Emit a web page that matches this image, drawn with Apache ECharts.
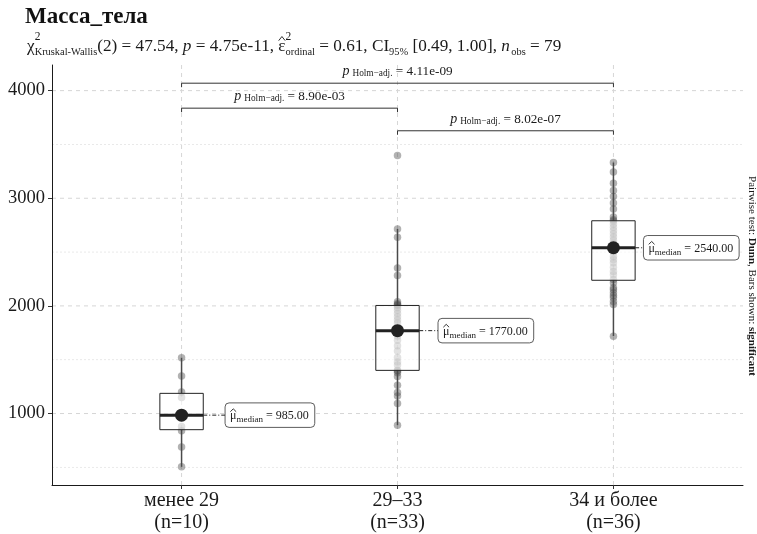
<!DOCTYPE html>
<html><head><meta charset="utf-8">
<script src="https://cdn.jsdelivr.net/npm/echarts@6/dist/echarts.min.js"></script>
<style>html,body{margin:0;padding:0;background:#fff}#c{width:757px;height:534px}</style>
</head><body><div id="c"></div>
<script>
// ---------- data ----------
const categories = ['менее 29', '29–33', '34 и более'];
const groupN = [10, 33, 36];
const massGroup1 = [505, 690, 840, 880, 960, 1010, 1150, 1200, 1348, 1519];
const massGroup2 = [892, 1093, 1163, 1195, 1262, 1343, 1380, 1395, 1401, 1450, 1478, 1520, 1580, 1630, 1680, 1720, 1770,
  1800, 1840, 1870, 1900, 1930, 1960, 1985, 2004, 2010, 2020, 2038, 2282, 2353, 2637, 2715, 3397];
const massGroup3 = [1719, 2013, 2040, 2075, 2096, 2121, 2150, 2168, 2214, 2246, 2290, 2320, 2360, 2400, 2430, 2460, 2500,
  2530, 2550, 2580, 2610, 2640, 2670, 2700, 2730, 2760, 2788, 2800, 2826, 2900, 2955, 3017, 3072, 3140, 3243, 3332];
const yTickValues = [1000, 2000, 3000, 4000];
const yMinorValues = [500, 1500, 2500, 3500];
const pairFrom = [1, 1, 2];
const pairTo = [2, 3, 3];
const pairP = ['8.90e-03', '4.11e-09', '8.02e-07'];
const bracketLevel = [3837, 4069, 3627];

// ---------- helpers ----------
const groups = [massGroup1, massGroup2, massGroup3];
const FF = "'Liberation Serif','Times New Roman',serif";
const TXT = '#1a1a1a';
const mctx = document.createElement('canvas').getContext('2d');
function fontOf(s) { return (s.it ? 'italic ' : '') + (s.b ? 'bold ' : '') + s.size + 'px ' + FF; }
function measureRuns(segs) {
  let cur = 0, lastStart = 0;
  const placed = segs.map(s => {
    mctx.font = fontOf(s);
    const w = mctx.measureText(s.t).width;
    const sx = s.stack ? lastStart : cur + (s.gap || 0);
    lastStart = sx;
    cur = Math.max(cur, sx + w);
    return { s, sx, w };
  });
  return { placed, width: cur };
}
function buildRuns(m, ox, by, color) {
  const els = [];
  m.placed.forEach(p => {
    const s = p.s, x = ox + p.sx, b = by + (s.dy || 0);
    els.push({ type: 'text', style: { text: s.t, x: x, y: b - 0.305 * s.size, font: fontOf(s), fill: color,
      textAlign: 'left', textVerticalAlign: 'middle', align: 'left', verticalAlign: 'middle' } });
    if (s.hat) {
      els.push({ type: 'polyline', shape: { points: [[x + 0.05 * p.w, b - 0.66 * s.size], [x + 0.5 * p.w, b - 0.9 * s.size], [x + 0.95 * p.w, b - 0.66 * s.size]] },
        style: { stroke: color, lineWidth: 0.9, fill: null } });
    }
  });
  return els;
}
function q7(a, p) { const h = (a.length - 1) * p, lo = Math.floor(h), hi = Math.min(lo + 1, a.length - 1); return a[lo] + (h - lo) * (a[hi] - a[lo]); }
const stats = groups.map(g => {
  const s = g.slice().sort((a, b) => a - b);
  const q1 = q7(s, 0.25), med = q7(s, 0.5), q3 = q7(s, 0.75), iqr = q3 - q1;
  const lo = s.filter(v => v >= q1 - 1.5 * iqr)[0];
  const hiArr = s.filter(v => v <= q3 + 1.5 * iqr);
  return { q1, med, q3, lo, hi: hiArr[hiArr.length - 1] };
});
const xLabels = categories.map((c, i) => c + '\n(n=' + groupN[i] + ')');

// ---------- styles ----------
const BOX_HALF = 21.7;
const LABEL_OFFSET = [43.5, 40.5, 30];

const points = [];
groups.forEach((g, i) => g.forEach(v => points.push([i + 1, v])));

const gridData = [];
yTickValues.forEach(v => gridData.push([0, v, 0]));
yMinorValues.forEach(v => gridData.push([0, v, 1]));
[1, 2, 3].forEach(v => gridData.push([v, 0, 2]));

const MS = 17.2, SS = 10.4, SP = 11.5;
const subtitleSegs = [
  { t: 'χ', size: MS },
  { t: '2', size: SP, dy: -12 },
  { t: 'Kruskal-Wallis', size: SS, dy: 3, stack: true },
  { t: '(2) = 47.54, ', size: MS },
  { t: 'p', size: MS, it: true },
  { t: ' = 4.75e-11, ', size: MS },
  { t: 'ε', size: MS, hat: true },
  { t: '2', size: SP, dy: -12 },
  { t: 'ordinal', size: SS, dy: 3, stack: true },
  { t: ' = 0.61, CI', size: MS },
  { t: '95%', size: SS, dy: 3 },
  { t: ' [0.49, 1.00], ', size: MS },
  { t: 'n', size: MS, it: true },
  { t: 'obs', size: SS, dy: 3, gap: 1.5 },
  { t: ' = 79', size: MS }
];
const subM = measureRuns(subtitleSegs);
const titleM = measureRuns([{ t: 'Масса_тела', size: 23, b: true }]);
const capM = measureRuns([
  { t: 'Pairwise test: ', size: 11 }, { t: 'Dunn', size: 11, b: true },
  { t: ', Bars shown: ', size: 11 }, { t: 'significant', size: 11, b: true }
]);

const chart = echarts.init(document.getElementById('c'));
chart.setOption({
  animation: false,
  backgroundColor: '#fff',
  grid: { left: 52, right: 14, top: 65, bottom: 48 },
  xAxis: {
    type: 'value', min: 0.4, max: 3.6,
    axisLine: { onZero: false, lineStyle: { color: '#1a1a1a', width: 1 } },
    axisTick: { show: true, customValues: [1, 2, 3], length: 4, lineStyle: { color: '#333' } },
    axisLabel: { customValues: [1, 2, 3], formatter: v => xLabels[Math.round(v) - 1], fontFamily: FF, fontSize: 20,
      lineHeight: 22, color: TXT, margin: 5 },
    splitLine: { show: false }
  },
  yAxis: {
    type: 'value', min: 336, max: 4238,
    axisLine: { show: true, onZero: false, lineStyle: { color: '#1a1a1a', width: 1 } },
    axisTick: { show: true, customValues: yTickValues, length: 4, lineStyle: { color: '#333' } },
    axisLabel: { customValues: yTickValues, formatter: v => String(v), fontFamily: FF, fontSize: 18.5, color: TXT, margin: 7 },
    splitLine: { show: false }
  },
  series: [
    {
      type: 'custom', z: 0, silent: true, data: gridData, encode: { x: 0, y: 1 },
      renderItem(params, api) {
        const cs = params.coordSys, kind = api.value(2);
        if (kind === 2) {
          const x = api.coord([api.value(0), 1000])[0];
          return { type: 'line', shape: { x1: x, y1: cs.y, x2: x, y2: cs.y + cs.height },
            style: { stroke: '#d6d6d6', lineWidth: 1, lineDash: [4, 4] } };
        }
        const y = api.coord([1, api.value(1)])[1];
        return { type: 'line', shape: { x1: cs.x, y1: y, x2: cs.x + cs.width, y2: y },
          style: kind === 0 ? { stroke: '#d6d6d6', lineWidth: 1, lineDash: [4, 4] } : { stroke: '#e4e4e4', lineWidth: 0.8, lineDash: [2, 2] } };
      }
    },
    {
      type: 'scatter', z: 2, silent: true, data: points, symbolSize: 7.5,
      itemStyle: { color: '#555', opacity: 0.45 }
    },
    {
      type: 'custom', z: 3, silent: true,
      data: stats.map((s, i) => [i + 1, s.lo, s.q1, s.med, s.q3, s.hi]),
      encode: { x: 0, y: [1, 2, 3, 4, 5] },
      renderItem(params, api) {
        const i = params.dataIndex, st = stats[i], x = api.value(0);
        const cx = api.coord([x, st.med])[0];
        const Y = v => api.coord([x, v])[1];
        const yq1 = Y(st.q1), yq3 = Y(st.q3), ym = Y(st.med), ylo = Y(st.lo), yhi = Y(st.hi);
        const lx = cx + LABEL_OFFSET[i];
        const m = measureRuns([{ t: 'μ', size: 12, hat: true }, { t: 'median', size: 9, dy: 3 }, { t: ' = ' + st.med.toFixed(2), size: 12 }]);
        const bw = m.width + 11, bh = 24.5;
        return {
          type: 'group', children: [
            { type: 'line', shape: { x1: cx, y1: yhi, x2: cx, y2: yq3 }, style: { stroke: '#4a4a4a', lineWidth: 1.5 } },
            { type: 'line', shape: { x1: cx, y1: yq1, x2: cx, y2: ylo }, style: { stroke: '#4a4a4a', lineWidth: 1.5 } },
            { type: 'rect', shape: { x: cx - BOX_HALF, y: yq3, width: 2 * BOX_HALF, height: yq1 - yq3 },
              style: { fill: 'rgba(255,255,255,0.62)', stroke: '#222', lineWidth: 1 } },
            { type: 'line', shape: { x1: cx + BOX_HALF, y1: ym, x2: lx, y2: ym }, style: { stroke: '#222', lineWidth: 1, lineDash: [4, 2, 1, 2] } },
            { type: 'line', shape: { x1: cx - BOX_HALF, y1: ym, x2: cx + BOX_HALF, y2: ym }, style: { stroke: '#222', lineWidth: 3 } },
            { type: 'circle', shape: { cx: cx, cy: ym, r: 6.5 }, style: { fill: '#222' } },
            { type: 'rect', shape: { x: lx, y: ym - bh / 2, width: bw, height: bh, r: 4 }, style: { fill: '#fff', stroke: '#333', lineWidth: 0.8 } }
          ].concat(buildRuns(m, lx + 5, ym + 4.5, TXT))
        };
      }
    },
    {
      type: 'custom', z: 4, silent: true,
      data: pairFrom.map((a, i) => [a, pairTo[i], bracketLevel[i]]),
      encode: { x: [0, 1], y: 2 },
      renderItem(params, api) {
        const i = params.dataIndex;
        const p1 = api.coord([api.value(0), api.value(2)]), p2 = api.coord([api.value(1), api.value(2)]);
        const tip = 4;
        const m = measureRuns([{ t: 'p', size: 14, it: true }, { t: 'Holm−adj.', size: 9.3, dy: 1, gap: 3 }, { t: ' = ' + pairP[i], size: 13.2 }]);
        const mid = (p1[0] + p2[0]) / 2;
        return {
          type: 'group', children: [
            { type: 'polyline', shape: { points: [[p1[0], p1[1] + tip], [p1[0], p1[1]], [p2[0], p2[1]], [p2[0], p2[1] + tip]] },
              style: { stroke: '#333', lineWidth: 1, fill: null } }
          ].concat(buildRuns(m, mid - m.width / 2, p1[1] - 7.5, TXT))
        };
      }
    }
  ],
  graphic: [
    { type: 'group', x: 25, y: 0, children: buildRuns(titleM, 0, 24, '#111') },
    { type: 'group', x: 27, y: 0, children: buildRuns(subM, 0, 52, TXT) },
    { type: 'group', x: 752, y: 276, rotation: -Math.PI / 2, children: buildRuns(capM, -capM.width / 2, 3.5, TXT) }
  ]
});
</script>
</body></html>
